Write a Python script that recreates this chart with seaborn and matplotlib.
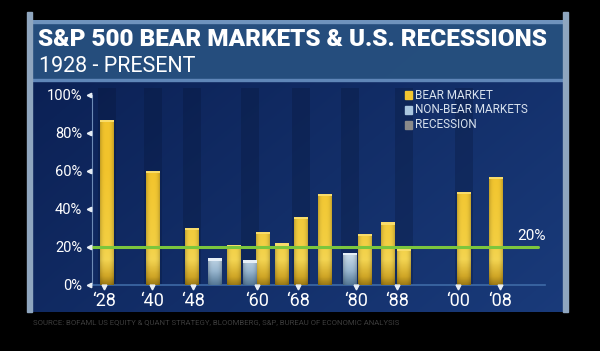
import numpy as np
import pandas as pd
import matplotlib
matplotlib.use("Agg")
import matplotlib.pyplot as plt
import seaborn as sns
from matplotlib.patches import Rectangle
from matplotlib.colors import LinearSegmentedColormap

# ---- data ----
slot = [107, 153, 192, 215, 234, 250, 263, 282, 301, 325, 350, 365, 388, 404, 464, 496]
decline = [87, 60, 30, 14, 21, 13, 28, 22, 36, 48, 17, 27, 33, 19, 49, 57]
kind = ["BEAR MARKET", "BEAR MARKET", "BEAR MARKET", "NON-BEAR MARKETS", "BEAR MARKET",
        "NON-BEAR MARKETS", "BEAR MARKET", "BEAR MARKET", "BEAR MARKET", "BEAR MARKET",
        "NON-BEAR MARKETS", "BEAR MARKET", "BEAR MARKET", "BEAR MARKET", "BEAR MARKET",
        "BEAR MARKET"]
tick_pos = [104, 152, 193, 257, 298, 356, 397, 458, 500]
tick_labels = ["\u201828", "\u201840", "\u201848", "\u201860", "\u201868",
               "\u201880", "\u201888", "\u201800", "\u201808"]
y_ticks = [0, 20, 40, 60, 80, 100]
threshold = 20
legend_labels = ["BEAR MARKET", "NON-BEAR MARKETS", "RECESSION"]

df = pd.DataFrame({"slot": slot, "decline": decline, "kind": kind})

sns.set_theme(style="white")
plt.rcParams["font.family"] = ["Roboto", "DejaVu Sans"]

W, H = 600, 351
fig = plt.figure(figsize=(6, 3.51), dpi=100, facecolor="black")

def fx(px): return px / W
def fy(py): return 1 - py / H

# background panel
bg = fig.add_axes([fx(32), fy(312), fx(563 - 32), (312 - 20) / H])
bg.set_axis_off()
gx, gy = np.meshgrid(np.linspace(0, 1, 256), np.linspace(0, 1, 256))
col_a = np.array([0.04, 0.12, 0.32])
col_b = np.array([0.10, 0.23, 0.48])
t = np.clip(0.6 * gx + 0.4 * (1 - gy), 0, 1)[..., None]
img = col_a * (1 - t) + col_b * t
bg.imshow(img, aspect="auto", extent=[0, 1, 0, 1], origin="lower")
bg.set_xlim(0, 1); bg.set_ylim(0, 1)
# title band
bg.add_patch(Rectangle((0, (312 - 80) / 292), 1, 60 / 292, color="#27507f", alpha=0.95, zorder=2))
bg.add_patch(Rectangle((0, (312 - 23) / 292), 1, 3 / 292, color="#6f93bd", zorder=3))
bg.add_patch(Rectangle((0, (312 - 81) / 292), 1, 1.5 / 292, color="#5f86b8", zorder=3))
fig.patches.append(Rectangle((fx(27), fy(312)), fx(5), (312 - 12) / H, transform=fig.transFigure,
                             color="#8fa6bf", zorder=1))
fig.patches.append(Rectangle((fx(563), fy(312)), fx(5), (312 - 12) / H, transform=fig.transFigure,
                             color="#8fa6bf", zorder=1))

fig.text(fx(38), fy(40), "S&P 500 BEAR MARKETS & U.S. RECESSIONS", color="white",
         fontsize=17.5, fontweight="black", va="center", ha="left")
fig.text(fx(39), fy(66), "1928 - PRESENT", color="white", fontsize=15.5, va="center", ha="left")
fig.text(fx(33), fy(322), "SOURCE: BOFAML US EQUITY & QUANT STRATEGY, BLOOMBERG, S&P, BUREAU OF ECONOMIC ANALYSIS",
         color="#3c3c3c", fontsize=5.6, va="center", ha="left")

# chart axes
x0, x1 = 92, 545
ax = fig.add_axes([fx(x0), fy(285), fx(x1 - x0), (285 - 88) / H])
ax.patch.set_alpha(0)
ymax = 100 * (285 - 88) / (285 - 95)

# dark vertical stripes
for s in [107, 153, 192, 250, 301, 350, 404, 464]:
    ax.axvspan(s - 9, s + 9, color="#061434", alpha=0.28, lw=0, zorder=0)

n_before = len(ax.patches)
palette = {"BEAR MARKET": "#f2c530", "NON-BEAR MARKETS": "#a9c6df"}
sns.barplot(data=df, x="slot", y="decline", hue="kind", palette=palette, native_scale=True,
            width=14 / 13, dodge=False, ax=ax, legend=False, edgecolor="none", zorder=3,
            saturation=1)
bars = list(ax.patches)[n_before:]

# shading depends on absolute height (value 0..60 mapped to 0..1)
gold = LinearSegmentedColormap.from_list(
    "gold", [(0, "#9c7a16"), (0.07, "#d0a626"), (0.22, "#f4d552"), (0.4, "#f3ce40"), (1, "#f2c42c")])
ice = LinearSegmentedColormap.from_list(
    "ice", [(0, "#557896"), (0.12, "#98b6cf"), (0.25, "#c6d9e8"), (1, "#d0e2ef")])
slot_arr = np.array(slot)
for bar in bars:
    h = bar.get_height()
    xb, wb = bar.get_x(), bar.get_width()
    idx = int(np.argmin(np.abs(slot_arr - (xb + wb / 2))))
    is_bear = kind[idx] == "BEAR MARKET"
    yy = np.linspace(0, h, 120) / 60.0
    xs = np.linspace(-1, 1, 16)
    bevel = 1 - 0.18 * np.abs(xs) ** 3
    cmap = gold if is_bear else ice
    rgb = cmap(np.clip(yy, 0, 1))[:, None, :3] * bevel[None, :, None]
    im = ax.imshow(rgb, origin="lower", extent=[xb, xb + wb, 0, h], aspect="auto",
                   zorder=3.5, interpolation="bilinear")
    im.set_clip_path(bar)
    ax.add_patch(Rectangle((xb, h - 1.3), wb, 1.3,
                           color="#f8dc6a" if is_bear else "#e6eff7", zorder=4, lw=0))
ax.set_xlim(x0, x1)
ax.set_ylim(0, ymax)

ax.axhline(threshold, xmin=0, xmax=(538 - x0) / (x1 - x0), color="#7cc63d", lw=2.2, zorder=5)
ax.text(517, threshold + 2, "20%", color="white", fontsize=11, va="bottom", ha="left")

# small triangle tick markers
ax.plot(tick_pos, [-1.0] * len(tick_pos), ls="none", marker="v", ms=3.5, color="#e8eef5",
        clip_on=False, zorder=6)
ax.plot([x0 - 3] * len(y_ticks), y_ticks, ls="none", marker="<", ms=3.2, color="#e8eef5",
        clip_on=False, zorder=6)

ax.set_xticks(tick_pos)
ax.set_xticklabels(tick_labels, color="white", fontsize=13)
ax.set_yticks(y_ticks)
ax.set_yticklabels([f"{v}%" for v in y_ticks], color="white", fontsize=10.5)
ax.tick_params(axis="x", length=0, pad=5)
ax.tick_params(axis="y", length=0, pad=7)
ax.set_xlabel(""); ax.set_ylabel("")
for side in ["top", "right"]:
    ax.spines[side].set_visible(False)
ax.spines["left"].set_color("#6d8bb6"); ax.spines["left"].set_linewidth(0.8)
ax.spines["bottom"].set_color("#3e6aa6"); ax.spines["bottom"].set_linewidth(1.2)
ax.spines["left"].set_bounds(0, 100)

# legend
leg_cols = ["#f2c530", "#a9c6df", "#8a8a8a"]
for i, (lab, c) in enumerate(zip(legend_labels, leg_cols)):
    yy = 95 + i * 15
    fig.patches.append(Rectangle((fx(405), fy(yy + 4)), fx(7), 8 / H, transform=fig.transFigure,
                                 color=c, zorder=5))
    fig.text(fx(415), fy(yy), lab, color="#d8e2ee", fontsize=8.5, va="center", ha="left")

fig.savefig("out.png", dpi=100, facecolor="black")
